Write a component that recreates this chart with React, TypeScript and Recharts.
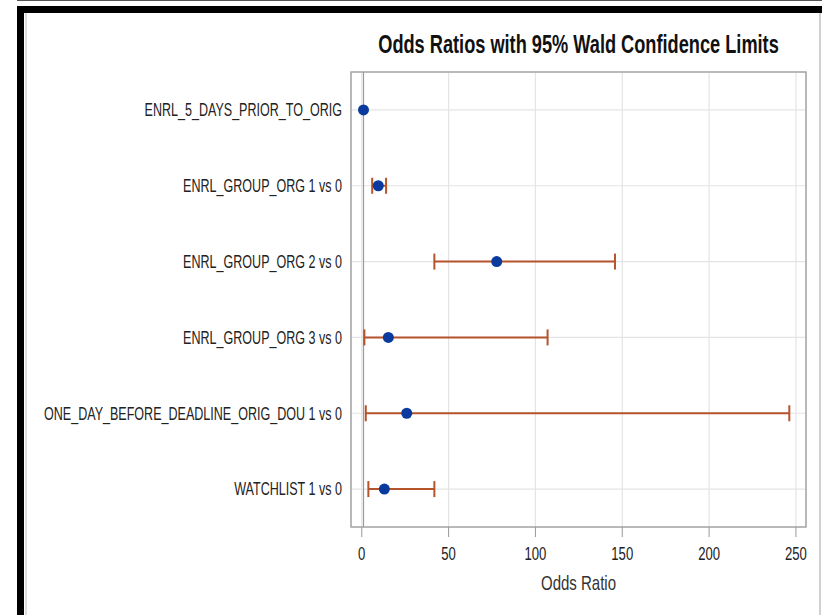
import {
  ScatterChart, Scatter, ErrorBar, XAxis, YAxis, CartesianGrid,
  ReferenceLine, ReferenceArea,
} from 'recharts';

const effects = [
  'ENRL_5_DAYS_PRIOR_TO_ORIG',
  'ENRL_GROUP_ORG 1 vs 0',
  'ENRL_GROUP_ORG 2 vs 0',
  'ENRL_GROUP_ORG 3 vs 0',
  'ONE_DAY_BEFORE_DEADLINE_ORIG_DOU 1 vs 0',
  'WATCHLIST 1 vs 0',
];
const oddsRatios = [1.0, 9.5, 77.7, 15.3, 25.9, 13.0];
const lowerCL: (number | null)[] = [null, 6.0, 41.8, 1.5, 2.3, 3.8];
const upperCL: (number | null)[] = [null, 14.0, 145.8, 107.0, 246.2, 41.8];
const xTicks = [0, 50, 100, 150, 200, 250];

const data = effects.map((label, i) => ({
  label,
  or: oddsRatios[i],
  ci: lowerCL[i] == null ? null : [oddsRatios[i] - (lowerCL[i] as number), (upperCL[i] as number) - oddsRatios[i]],
}));

// narrow look: Liberation Sans squeezed sideways, a bit stretched up
const font = '"Liberation Sans", Arial, sans-serif';
const narrow = 0.82;

const YTick = ({ x, y, payload }: any) => (
  <text
    transform={`translate(${x},${y}) scale(${narrow},1.16)`}
    textAnchor="end"
    dy="0.36em"
    fontFamily={font}
    fontSize={15.3}
    fill="#222"
  >
    {payload.value}
  </text>
);

const XTick = ({ x, y, payload }: any) => (
  <text
    transform={`translate(${x},${y}) scale(${narrow},1.18)`}
    textAnchor="middle"
    dy="0.71em"
    fontFamily={font}
    fontSize={16}
    fill="#222"
  >
    {payload.value}
  </text>
);

const AxisTitle = ({ viewBox }: any) => (
  <text
    transform={`translate(${viewBox.x + viewBox.width / 2},${viewBox.y + viewBox.height - 25}) scale(${narrow},1.14)`}
    textAnchor="middle"
    fontFamily={font}
    fontSize={18.3}
    fill="#333"
  >
    Odds Ratio
  </text>
);

const Dot = ({ cx, cy }: any) => <circle cx={cx} cy={cy} r={5.5} fill="#0a3a9e" />;

export default function App() {
  return (
    <div style={{ position: 'absolute', left: 0, top: 0, width: 822, height: 615, background: '#fff', overflow: 'hidden' }}>
      {/* frame of the screenshot */}
      <div style={{ position: 'absolute', left: 17, right: 0, top: 0, height: 1, background: '#555' }} />
      <div style={{ position: 'absolute', left: 17, right: 0, top: 6, height: 7, background: '#000' }} />
      <div style={{ position: 'absolute', left: 17, width: 7, top: 6, bottom: 0, background: '#000' }} />
      <div style={{ position: 'absolute', left: 25, width: 2, top: 13, bottom: 0, background: '#ddd' }} />
      <div style={{ position: 'absolute', left: 819, width: 2, top: 13, bottom: 0, background: '#d0d0d0' }} />

      <div style={{ position: 'absolute', left: 0, top: 0 }}>
        <ScatterChart width={822} height={615} margin={{ top: 72, right: 16, bottom: 0, left: 0 }}>
          <CartesianGrid stroke="#e4e4e4" strokeWidth={1.2} />
          <XAxis
            type="number"
            dataKey="or"
            domain={[-6.2, 255.8]}
            ticks={xTicks}
            axisLine={false}
            tickLine={{ stroke: '#999' }}
            tickSize={10}
            tickMargin={10}
            tick={<XTick />}
            height={88}
            label={<AxisTitle />}
          />
          <YAxis
            type="category"
            dataKey="label"
            reversed
            width={351}
            axisLine={false}
            tickLine={false}
            tickSize={0}
            tickMargin={9}
            tick={<YTick />}
            interval={0}
          />
          <ReferenceLine x={1} stroke="#9a9a9a" strokeWidth={1.2} />
          <ReferenceArea x1={-6.2} x2={255.8} fill="none" stroke="#a6a6a6" strokeWidth={1.5} />
          <Scatter data={data} shape={<Dot />} isAnimationActive={false}>
            <ErrorBar dataKey="ci" direction="x" width={8} stroke="#b5532b" strokeWidth={2} />
          </Scatter>
        </ScatterChart>
      </div>

      <svg width={822} height={615} style={{ position: 'absolute', left: 0, top: 0, pointerEvents: 'none' }}>
        <text
          transform={`translate(578.5,53) scale(${narrow},1.2)`}
          textAnchor="middle"
          fontFamily={font}
          fontWeight="bold"
          fontSize={22.2}
          fill="#111"
        >
          Odds Ratios with 95% Wald Confidence Limits
        </text>
      </svg>
    </div>
  );
}
